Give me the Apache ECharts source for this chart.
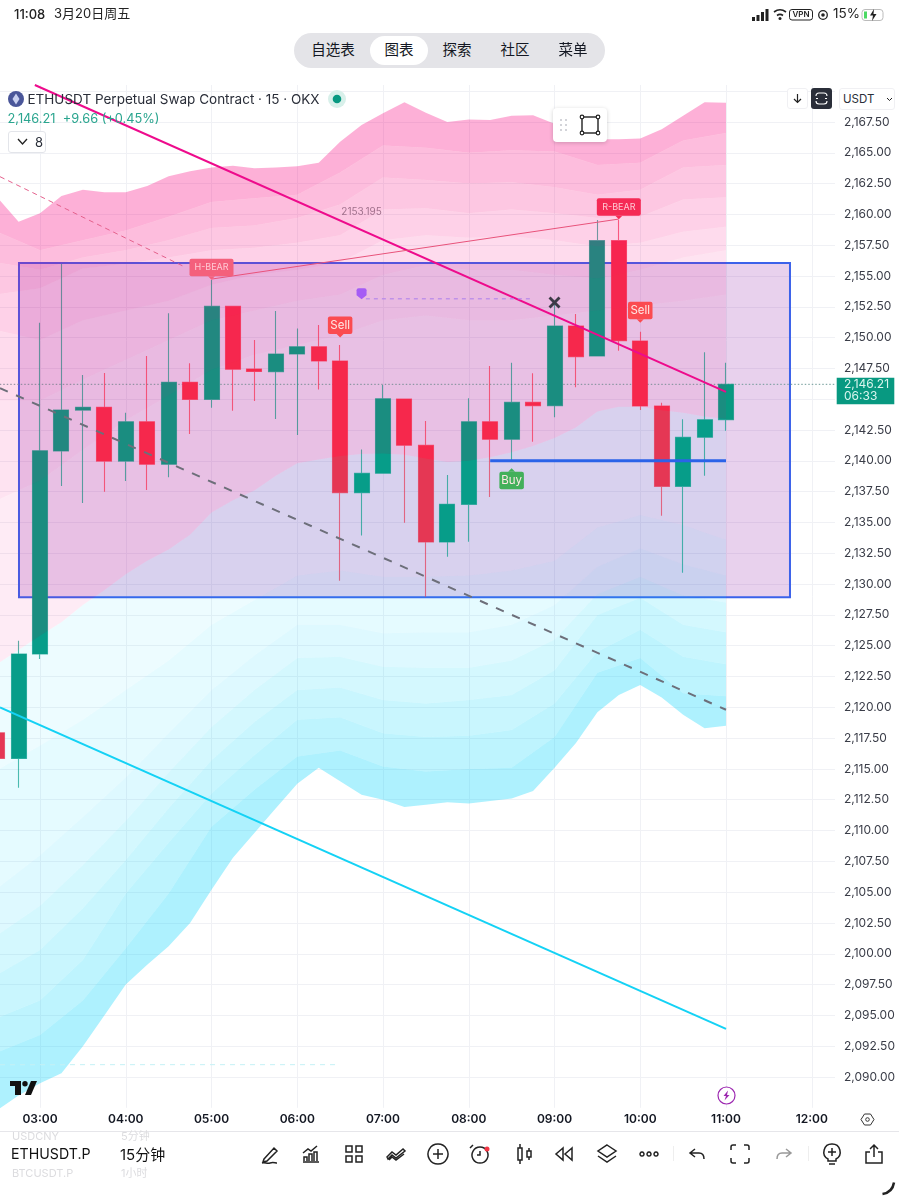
<!DOCTYPE html>
<html>
<head lang="en">
<meta charset="UTF-8">
<title>ETHUSDT.P 15</title>
<script src="https://cdn.jsdelivr.net/npm/echarts@6/dist/echarts.min.js"></script>
<style>
html,body{margin:0;padding:0;background:#fff;overflow:hidden}
body{width:899px;height:1199px;position:relative;font-family:Inter,"Noto Sans CJK SC",sans-serif;color:#131722}
#chart{position:absolute;left:0;top:0;width:899px;height:1199px}
.t{position:absolute;white-space:nowrap;line-height:1;pointer-events:none}
.b{position:absolute;box-sizing:border-box}
svg.i{position:absolute;overflow:visible}
</style>
</head>
<body>
<div id="chart"></div>

<!-- status bar -->
<div class="t" style="left:14px;top:8px;font-size:13px;font-weight:500;color:#222">11:08</div>
<div class="t" style="left:54px;top:7px;font-size:13px;color:#222">3月20日周五</div>
<svg class="i" style="left:752px;top:8px" width="140" height="14" fill="#222">
  <rect x="0" y="9" width="3" height="4"/><rect x="4.500" y="7" width="3" height="6"/><rect x="9" y="4" width="3" height="9"/><rect x="13.500" y="1" width="3" height="12"/>
  <path d="M22 4c4-3 8-3 12 0M25 7.500c2-1.500 4-1.500 6 0" fill="none" stroke="#222" stroke-width="1.600"/><circle cx="28" cy="10.500" r="1.500"/>
  <rect x="37.500" y="1.500" width="23" height="10.500" rx="2.500" fill="none" stroke="#222" stroke-width="1"/>
  <circle cx="71" cy="7" r="4.300" fill="none" stroke="#222" stroke-width="1.300"/><circle cx="71" cy="7" r="1.800"/>
  <rect x="110" y="1.500" width="21" height="11" rx="3" fill="none" stroke="#bbb"/><rect x="112" y="3.500" width="3" height="7" fill="#4cd964"/><path d="M122 1l-4 6.500h3l-1 5.500 4.500-7h-3z"/>
</svg>
<div class="t" style="left:789px;top:10px;width:24px;text-align:center;font-size:8px;font-weight:600;color:#222">VPN</div>
<div class="t" style="left:833px;top:7px;font-size:13.500px;color:#222">15%</div>

<!-- nav pill -->
<div class="b" style="left:294px;top:33px;width:311px;height:35px;border-radius:17.500px;background:#e4e4e8"></div>
<div class="b" style="left:370px;top:36px;width:58px;height:29px;border-radius:14.500px;background:#fff"></div>
<div class="t" style="left:303px;width:60px;top:43px;text-align:center;font-size:14.500px">自选表</div>
<div class="t" style="left:369px;width:60px;top:43px;text-align:center;font-size:14.500px">图表</div>
<div class="t" style="left:427px;width:60px;top:43px;text-align:center;font-size:14.500px">探索</div>
<div class="t" style="left:485px;width:60px;top:43px;text-align:center;font-size:14.500px">社区</div>
<div class="t" style="left:543px;width:60px;top:43px;text-align:center;font-size:14.500px">菜单</div>

<!-- legend -->
<svg class="i" style="left:8px;top:91px" width="16" height="16"><circle cx="8" cy="8" r="8" fill="#4a5699"/><path d="M8 2.500L4.500 8 8 13.500 11.500 8z" fill="#c9d0f0"/></svg>
<div class="t" style="left:27.500px;top:93px;font-size:13.500px;color:#2a2e39">ETHUSDT Perpetual Swap Contract · 15 · OKX</div>
<svg class="i" style="left:328px;top:90px" width="18" height="18"><circle cx="9" cy="9" r="9" fill="#d8f0ea"/><circle cx="9" cy="9" r="4.300" fill="#089981"/></svg>
<div class="t" style="left:7.500px;top:113px;font-size:12.800px;color:#2aa58f">2,146.21&nbsp; +9.66 (+0.45%)</div>
<div class="b" style="left:8px;top:131px;width:38px;height:22px;border:1px solid #e3e5ea;border-radius:3px;background:#fff"></div>
<svg class="i" style="left:17px;top:138px" width="11" height="8"><path d="M1 1l4.500 5L10 1" fill="none" stroke="#222" stroke-width="1.300"/></svg>
<div class="t" style="left:35px;top:135.500px;font-size:13px;color:#2a2e39">8</div>

<!-- top right buttons -->
<div class="b" style="left:787px;top:88px;width:21px;height:21px;border:1px solid #f0f0f3;border-radius:3px;background:#fff"></div>
<svg class="i" style="left:792px;top:93px" width="11" height="11"><path d="M5.500 1v8M2 6l3.500 3.500L9 6" fill="none" stroke="#222" stroke-width="1.200"/></svg>
<div class="b" style="left:811px;top:88px;width:21px;height:21px;border-radius:3px;background:#2a2e39"></div>
<svg class="i" style="left:816px;top:93px" width="11" height="11"><path d="M0 3c0-2 1-3 3-3h5c2 0 3 1 3 3M0 8c0 2 1 3 3 3h5c2 0 3-1 3-3M0 5.500h2M9 5.500h2" fill="none" stroke="#fff" stroke-width="1.100"/></svg>
<div class="b" style="left:839px;top:88px;width:56px;height:22px;border:1px solid #f0f0f3;border-radius:3px;background:#fff"></div>
<div class="t" style="left:843px;top:93.500px;font-size:11.500px;color:#2a2e39">USDT</div>
<svg class="i" style="left:886px;top:97px" width="7" height="5"><path d="M1 1l2.500 2.500L6 1" fill="none" stroke="#222" stroke-width="1"/></svg>

<!-- drawing toolbar -->
<div class="b" style="left:553px;top:108px;width:54px;height:34px;border-radius:4px;background:#fff;box-shadow:0 1px 4px rgba(0,0,0,.18)"></div>
<svg class="i" style="left:559px;top:118px" width="10" height="14" fill="#c4c6cc"><circle cx="2" cy="2" r="1"/><circle cx="7" cy="2" r="1"/><circle cx="2" cy="7" r="1"/><circle cx="7" cy="7" r="1"/><circle cx="2" cy="12" r="1"/><circle cx="7" cy="12" r="1"/></svg>
<svg class="i" style="left:580px;top:115px" width="20" height="20"><rect x="2" y="2" width="16" height="16" fill="none" stroke="#222" stroke-width="1.400"/><g fill="#fff" stroke="#222" stroke-width="1.200"><circle cx="2" cy="2" r="1.800"/><circle cx="18" cy="2" r="1.800"/><circle cx="2" cy="18" r="1.800"/><circle cx="18" cy="18" r="1.800"/></g></svg>

<!-- logo, lightning, settings -->
<svg class="i" style="left:10px;top:1081px" width="27" height="14" fill="#111"><path d="M0 0h11v14H5V5H0z"/><circle cx="15" cy="2.700" r="2.700"/><path d="M21 0h6l-6 14h-6z"/></svg>
<svg class="i" style="left:717px;top:1086px" width="19" height="19"><circle cx="9.500" cy="9.500" r="8.500" fill="#fff" stroke="#9c27b0" stroke-width="1.200"/><path d="M11 4.500L6.500 10h2.500l-1.500 4.500L12.500 9H10z" fill="#9c27b0"/></svg>
<svg class="i" style="left:861px;top:1113px" width="13" height="13"><path d="M3.500 1h6L13 6.500 9.500 12h-6L0 6.500z" fill="none" stroke="#333" stroke-width="1"/><circle cx="6.500" cy="6.500" r="1.800" fill="none" stroke="#333"/></svg>

<!-- bottom toolbar -->
<div class="b" style="left:0;top:1131px;width:899px;height:1px;background:#e6e6ea"></div>
<div class="t" style="left:12px;top:1130.500px;font-size:11px;color:#dcdcdf">USDCNY</div>
<div class="t" style="left:121px;top:1130.500px;font-size:11px;color:#dcdcdf">5分钟</div>
<div class="t" style="left:11px;top:1147px;font-size:14.200px;color:#111">ETHUSDT.P</div>
<div class="t" style="left:120px;top:1147px;font-size:15px;color:#111">15分钟</div>
<div class="t" style="left:12px;top:1168px;font-size:11px;color:#dcdcdf">BTCUSDT.P</div>
<div class="t" style="left:121px;top:1168px;font-size:11px;color:#dcdcdf">1小时</div>
<div id="icons"></div>
<div class="b" style="left:673px;top:1146px;width:1px;height:15px;background:#eee"></div>
<div class="b" style="left:808px;top:1146px;width:1px;height:15px;background:#eee"></div>
<svg class="i" style="left:881px;top:1181px" width="15" height="15"><path d="M13 1.500C12 8 8 12 1.500 13" fill="none" stroke="#222" stroke-width="2.500"/></svg>

<script>
// candles, 15 min bars, hours of the day
var barHours = [2.5,2.75,3,3.25,3.5,3.75,4,4.25,4.5,4.75,5,5.25,5.5,5.75,6,6.25,6.5,6.75,7,7.25,7.5,7.75,8,8.25,8.5,8.75,9,9.25,9.5,9.75,10,10.25,10.5,10.75,11];
var opens  = [2117.93,2115.85,2124.32,2140.80,2144.12,2144.34,2139.98,2143.17,2139.72,2146.37,2144.99,2152.54,2147.45,2147.23,2148.67,2149.26,2148.10,2137.41,2138.99,2145.02,2141.26,2133.41,2136.47,2143.17,2141.75,2144.75,2144.47,2150.94,2148.51,2157.87,2149.72,2144.45,2137.93,2141.91,2143.34];
var closes = [2115.85,2124.32,2140.82,2144.12,2144.34,2139.98,2143.17,2139.72,2146.37,2144.99,2152.54,2147.43,2147.26,2148.67,2149.26,2148.10,2137.41,2138.99,2145.04,2141.26,2133.41,2136.47,2143.17,2141.75,2144.75,2144.47,2150.94,2148.45,2157.87,2149.75,2144.45,2137.93,2141.91,2143.34,2146.21];
var lows   = [2115.85,2113.47,2123.91,2137.95,2136.57,2137.49,2138.36,2137.63,2138.66,2142.18,2144.31,2144.07,2144.85,2143.39,2142.09,2145.80,2130.27,2133.95,2138.99,2134.98,2128.97,2132.22,2133.43,2137.06,2140.06,2141.55,2143.53,2145.97,2148.51,2148.94,2144.12,2135.54,2130.92,2138.79,2142.44];
var highs  = [2117.93,2125.40,2151.21,2155.97,2146.96,2147.13,2143.90,2148.51,2151.97,2147.91,2154.68,2152.54,2149.81,2152.16,2150.75,2151.02,2149.40,2140.93,2146.15,2145.02,2143.23,2138.85,2145.07,2147.69,2147.96,2147.10,2152.81,2151.92,2159.55,2159.55,2150.48,2144.72,2143.37,2148.81,2147.96];
var lastPrice = 2146.21;

// ribbon edges, the outer ones and the middle read every 15 min
var pinkOuter = [2161.4,2159.4,2160.1,2161.5,2162.0,2161.8,2161.8,2162.3,2163.1,2163.5,2163.8,2163.95,2163.75,2163.8,2163.9,2164.2,2165.9,2167.25,2168.2,2169.1,2168.25,2167.5,2167.7,2167.65,2168.0,2168.05,2167.35,2166.2,2166.1,2166.1,2166.15,2166.9,2168.0,2169.1,2169.05];
var ribbonMid = [2123.5,2124.65,2125.8,2126.9,2128.3,2129.5,2130.8,2131.9,2132.8,2134.0,2135.8,2136.8,2137.6,2138.8,2139.8,2140.1,2140.4,2140.55,2140.6,2140.5,2140.2,2139.9,2140.0,2140.3,2140.7,2141.2,2141.85,2142.7,2144.0,2144.4,2144.4,2144.1,2143.9,2143.6,2143.4];
var cyanOuter = [2087.3,2088.5,2089.5,2090.3,2092.5,2095.0,2097.5,2099.1,2100.6,2102.5,2105.2,2107.8,2109.8,2111.8,2113.8,2115.1,2114.0,2112.9,2112.5,2111.9,2112.1,2112.3,2112.2,2112.4,2112.6,2113.2,2115.1,2117.1,2119.6,2121.0,2121.8,2120.8,2119.4,2118.3,2118.5];

// inner edges, read every 30 min
var innerHours = [2.5,3,3.5,4,4.5,5,5.5,6,6.5,7,7.5,8,8.5,9,9.5,10,10.5,11];
var pink1 = [2158.6,2157.1,2157.9,2158.7,2159.8,2161.0,2161.3,2161.6,2163.4,2165.6,2165.4,2165.0,2165.2,2165.1,2164.0,2164.2,2166.0,2166.6];
var pink2 = [2156.1,2155.5,2156.5,2157.1,2157.9,2158.9,2159.1,2159.7,2160.8,2163.0,2162.8,2162.5,2162.6,2162.2,2161.6,2162.0,2163.8,2164.0];
var pink3 = [2153.5,2154.0,2155.6,2156.0,2156.5,2157.1,2157.3,2157.7,2158.3,2160.4,2160.5,2160.1,2160.4,2160.1,2159.7,2159.8,2161.2,2161.4];
var pink4 = [2150.6,2149.8,2151.4,2152.2,2153.0,2154.3,2155.1,2155.5,2156.1,2157.9,2158.3,2158.1,2158.2,2157.9,2157.4,2157.7,2158.6,2159.0];
var pink5 = [2144.9,2144.9,2146.6,2148.2,2149.8,2151.4,2152.2,2153.0,2153.5,2155.1,2155.9,2155.5,2155.5,2155.1,2154.8,2155.5,2156.5,2157.1];
var pink6 = [2136.8,2138.4,2140.9,2143.3,2145.3,2147.4,2148.6,2149.4,2150.2,2151.4,2151.8,2151.4,2151.4,2151.8,2152.2,2152.6,2153.0,2153.5];
var cyan6 = [2114.9,2116.9,2119.0,2121.4,2123.8,2126.7,2128.7,2130.7,2131.1,2130.6,2130.6,2130.7,2131.1,2131.9,2134.6,2135.6,2134.8,2133.6];
var cyan5 = [2105.3,2108.0,2111.1,2114.3,2117.9,2121.4,2124.2,2126.7,2126.7,2126.0,2126.1,2126.1,2126.7,2128.3,2131.4,2132.9,2131.6,2130.7];
var cyan4 = [2101.5,2103.9,2107.2,2110.8,2114.7,2118.4,2121.4,2124.0,2124.1,2123.3,2123.2,2123.2,2123.8,2125.5,2129.2,2130.6,2129.1,2128.5];
var cyan3 = [2098.3,2100.3,2103.7,2107.6,2111.8,2115.7,2118.8,2121.4,2121.6,2120.6,2120.3,2120.6,2121.0,2123.0,2127.5,2128.9,2126.7,2126.1];
var cyan2 = [2094.8,2096.2,2099.5,2104.9,2109.0,2113.0,2116.1,2119.0,2119.2,2117.9,2117.6,2117.7,2118.15,2120.3,2124.5,2126.3,2124.1,2123.5];
var cyan1 = [2092.0,2093.4,2096.2,2100.45,2104.9,2110.3,2113.3,2116.0,2116.5,2115.2,2114.8,2115.0,2115.1,2117.6,2122.8,2124.0,2121.15,2120.9];

// drawings
var boxHours = [2.755,11.746];
var boxPrices = [2156.05,2128.94];
var pinkLine = [[2.94,2170.5],[11,2145.6]];
var cyanLine = [[2.5335,2120.0],[11,2093.9]];
var greyDash = [[2.5335,2145.9],[11,2119.8]];
var pinkDash = [[2.5335,2163.06],[4.69,2155.73]];
var bearLine = [[5,2154.75],[9.75,2159.62]];
var buyLine = [[8.25,2140.0],[11,2140.0]];
var alertDash = [[6.8,2153.15],[8.714,2153.15]];
var lowDash = [[2.5335,2091.0],[6.46,2091.0]];
var tagNames = ['H-BEAR','R-BEAR','Sell','Sell','Buy'];
var tagHours = [5,9.75,6.5,10,8.5];
var tagPrices = [2154.7,2159.6,2150.0,2151.2,2139.4];

var yMin = 2087.5, yMax = 2170.5, xMin = 2, xMax = 12.271;

function pad(h){ return (h < 10 ? '0' : '') + h + ':00'; }
function priceText(v){ return v.toFixed(2).replace(/^(\d)(\d{3})/, '$1,$2'); }

// one filled band between two edges of the ribbon
function band(topH, top, botH, bot, fill){
    return {
        type: 'custom', z: 3, silent: true, data: [0],
        renderItem: function(params, api){
            var pts = [];
            for (var i = 0; i < top.length; i++) pts.push(api.coord([topH[i], top[i]]));
            for (var j = bot.length - 1; j >= 0; j--) pts.push(api.coord([botH[j], bot[j]]));
            return {type: 'polygon', shape: {points: pts}, style: {fill: fill}};
        }
    };
}
function line(data, color, width, dash, z){
    return {
        type: 'line', data: data, z: z || 4, silent: true, showSymbol: false, symbol: 'none',
        lineStyle: {color: color, width: width, type: dash || 'solid'}
    };
}

var pinkC = '248,0,125', cyanC = '2,211,252';
var series = [];

// box, below the candles
series.push({
    type: 'custom', z: 1, silent: true, data: [0],
    renderItem: function(params, api){
        var a = api.coord([boxHours[0], boxPrices[0]]), b = api.coord([boxHours[1], boxPrices[1]]);
        return {type: 'rect', shape: {x: a[0], y: a[1], width: b[0]-a[0], height: b[1]-a[1]},
            style: {fill: 'rgba(140,25,165,0.2)', stroke: '#3b62ea', lineWidth: 2}};
    }
});
series.push(line([[xMin,lastPrice],[xMax,lastPrice]], '#6f9a97', 1, [1.5,2], 2));
series.push({
    type: 'candlestick', z: 2, silent: true, barWidth: 15.5,
    encode: {x: 0, y: [1,2,3,4]},
    data: barHours.map(function(h,i){ return [h, opens[i], closes[i], lows[i], highs[i]]; }),
    // see-through border keeps the wicks lighter than the bodies
    itemStyle: {color: '#089981', color0: '#f72c48', borderColor: 'rgba(8,153,129,0.7)', borderColor0: 'rgba(247,44,72,0.7)', borderWidth: 1.1}
});

// ribbon over the candles, see-through
series.push(band(barHours, pinkOuter, innerHours, pink1, 'rgba('+pinkC+',0.31)'));
series.push(band(innerHours, pink1, innerHours, pink2, 'rgba('+pinkC+',0.26)'));
series.push(band(innerHours, pink2, innerHours, pink3, 'rgba('+pinkC+',0.22)'));
series.push(band(innerHours, pink3, innerHours, pink4, 'rgba('+pinkC+',0.18)'));
series.push(band(innerHours, pink4, innerHours, pink5, 'rgba('+pinkC+',0.14)'));
series.push(band(innerHours, pink5, innerHours, pink6, 'rgba('+pinkC+',0.11)'));
series.push(band(innerHours, pink6, barHours, ribbonMid, 'rgba('+pinkC+',0.08)'));
series.push(band(barHours, ribbonMid, innerHours, cyan6, 'rgba('+cyanC+',0.07)'));
series.push(band(innerHours, cyan6, innerHours, cyan5, 'rgba('+cyanC+',0.10)'));
series.push(band(innerHours, cyan5, innerHours, cyan4, 'rgba('+cyanC+',0.13)'));
series.push(band(innerHours, cyan4, innerHours, cyan3, 'rgba('+cyanC+',0.17)'));
series.push(band(innerHours, cyan3, innerHours, cyan2, 'rgba('+cyanC+',0.21)'));
series.push(band(innerHours, cyan2, innerHours, cyan1, 'rgba('+cyanC+',0.26)'));
series.push(band(innerHours, cyan1, barHours, cyanOuter, 'rgba('+cyanC+',0.32)'));

// trend lines
series.push(line(pinkLine, '#ee0b8c', 2));
series.push(line(cyanLine, '#14d2f5', 2));
series.push(line(greyDash, '#6d6f7a', 2, [8.5,9]));
series.push(line(pinkDash, '#e4608c', 1, [5,4]));
series.push(line(bearLine, '#e8527a', 1));
series.push(line(buyLine, '#2b63e8', 3));
series.push(line(alertDash, '#b488ea', 1.2, [4,4]));
series.push(line(lowDash, '#c4f1f6', 1, [5,5]));

// signal tags
series.push({
    type: 'custom', z: 5, silent: true,
    data: tagNames.map(function(n,i){ return [tagHours[i], tagPrices[i], i]; }),
    encode: {x: 0, y: 1},
    renderItem: function(params, api){
        var name = tagNames[api.value(2)], p = api.coord([api.value(0), api.value(1)]);
        var bear = name.indexOf('BEAR') > 0, up = name === 'Buy';
        var w = bear ? 44 : 24.5, h = 17.5, gap = 3.5;
        var fill = name === 'H-BEAR' ? '#f4607c' : name === 'R-BEAR' ? '#f52a55' : up ? '#43b05a' : '#fb4b50';
        var top = up ? p[1] + gap : p[1] - gap - h;
        var edge = up ? p[1] + gap : p[1] - gap;
        return {type: 'group', children: [
            {type: 'rect', shape: {x: p[0]-w/2, y: top, width: w, height: h, r: 2}, style: {fill: fill}},
            {type: 'polygon', shape: {points: [[p[0]-3.5,edge],[p[0]+3.5,edge],[p[0],p[1]]]}, style: {fill: fill}},
            {type: 'text', style: {text: name, x: p[0], y: top+h/2, align: 'center', verticalAlign: 'middle',
                fill: bear ? '#ffc9d4' : '#ffe9e6', font: (bear ? '9px' : '11.5px') + ' Inter'}}
        ]};
    }
});
// level text, flag and the cross
series.push({
    type: 'custom', z: 5, silent: true, data: [[6.75,2160.2]], encode: {x: 0, y: 1},
    renderItem: function(params, api){
        var p = api.coord([api.value(0), api.value(1)]);
        return {type: 'text', style: {text: '2153.195', x: p[0], y: p[1], align: 'center', verticalAlign: 'middle', fill: '#a0708c', font: '10px Inter'}};
    }
});
series.push({
    type: 'scatter', z: 5, silent: true, data: [[6.75,2153.15]], symbolSize: [10,11], symbolOffset: [0,-5],
    symbol: 'path://M2 0h6a2 2 0 0 1 2 2v5l-5 4-5-4V2a2 2 0 0 1 2-2z', itemStyle: {color: '#a55cf5', opacity: 1}
});
series.push({
    type: 'scatter', z: 5, silent: true, data: [[9,2152.85]], symbolSize: 12,
    symbol: 'path://M2 0L6 4 10 0 12 2 8 6 12 10 10 12 6 8 2 12 0 10 4 6 0 2z', itemStyle: {color: '#3d3a46', opacity: 1}
});
// last price tag on the scale
series.push({
    type: 'custom', z: 6, silent: true, data: [[xMax,lastPrice]], encode: {x: 0, y: 1},
    renderItem: function(params, api){
        var p = api.coord([api.value(0), api.value(1)]);
        return {type: 'group', children: [
            {type: 'rect', shape: {x: p[0]+1.7, y: p[1]-6.6, width: 57.6, height: 26.6}, style: {fill: '#089981'}},
            {type: 'text', style: {text: priceText(lastPrice), x: p[0]+9, y: p[1], verticalAlign: 'middle', fill: '#d9f5ee', font: '12px Inter'}},
            {type: 'text', style: {text: '06:33', x: p[0]+9, y: p[1]+12, verticalAlign: 'middle', fill: '#d9f5ee', font: '12px Inter'}}
        ]};
    }
});

var chart = echarts.init(document.getElementById('chart'), null, {renderer: 'canvas'});
chart.setOption({
    animation: false,
    backgroundColor: 'transparent',
    grid: {left: -45.75, top: 85, width: 880.75, height: 1022.8, outerBoundsMode: 'none'},
    xAxis: {
        type: 'value', min: xMin, max: xMax, interval: 1,
        axisLine: {show: false}, axisTick: {show: false},
        splitLine: {show: true, showMinLine: false, showMaxLine: false, lineStyle: {color: '#f0f1f5', width: 1}},
        axisLabel: {
            margin: 6, fontFamily: 'Inter', fontSize: 12, fontWeight: 600, color: '#131722',
            showMinLabel: false, showMaxLabel: false,
            formatter: function(v){ return (v % 1 === 0 && v > 2) ? pad(v) : ''; }
        }
    },
    yAxis: {
        type: 'value', position: 'right', min: yMin, max: yMax, interval: 2.5,
        axisLine: {show: false}, axisTick: {show: false},
        splitLine: {show: true, showMinLine: false, showMaxLine: false, lineStyle: {color: '#f0f1f5', width: 1}},
        axisLabel: {
            margin: 9, fontFamily: 'Inter', fontSize: 12, color: '#3a3d48',
            formatter: function(v){ return (v === 2087.5 || v >= 2170 || v === 2145) ? '' : priceText(v); }
        }
    },
    series: series
});

// bottom toolbar icons
var icons = [
    [270,'M6 17L16 6l3 3-10 10-4 1zM4 21c3-1 5 1 8 0s5 0 7 0'],
    [311,'M4 20h16M5 19v-4h3v4M10 19v-7h3v7M15 19v-9h3v9M4 11l5-4 3 2 6-5'],
    [354,'M4 4h6v6H4zM14 4h6v6h-6zM4 14h6v6H4zM14 14h6v6h-6z'],
    [396,'M3 15l5-5 4 3 7-6 2 2-9 7-4-3-4 4zM5 18l3-3 4 3 8-6'],
    [438,'M12 2a10 10 0 1 0 .01 0zM12 7v10M7 12h10'],
    [480,'M12 5a8 8 0 1 0 .01 0zM12 9v4H9M5 3L2 6'],
    [522.7,'M7 6h4v12H7zM9 2v4M9 18v4M16 9h4v6h-4zM18 6v3M18 15v3'],
    [564,'M11 6L4 12l7 6zM20 6l-7 6 7 6z'],
    [607,'M12 3l9 6-9 6-9-6zM3 14l9 6 9-6'],
    [649,'M5 10a2 2 0 1 0 .01 0zM12 10a2 2 0 1 0 .01 0zM19 10a2 2 0 1 0 .01 0z'],
    [698,'M9 7l-5 4 5 4M4 11h9c3 0 5 2 5 6'],
    [740,'M8 3H5a2 2 0 0 0-2 2v3M16 3h3a2 2 0 0 1 2 2v3M8 21H5a2 2 0 0 1-2-2v-3M16 21h3a2 2 0 0 0 2-2v-3'],
    [783,'M15 7l5 4-5 4M20 11h-9c-3 0-5 2-5 6', '#999'],
    [832,'M12 2a8 8 0 0 0-4 15v2h8v-2a8 8 0 0 0-4-15zM12 6v8M8 10h8M9 22h6'],
    [874,'M12 15V3M8 7l4-4 4 4M8 10H4v11h16V10h-4']
];
var html = '';
for (var k = 0; k < icons.length; k++) {
    html += '<svg class="i" style="left:' + (icons[k][0]-12) + 'px;top:1142px" width="24" height="24" viewBox="0 0 24 24"><path d="' + icons[k][1] +
        '" fill="none" stroke="' + (icons[k][2] || '#222') + '" stroke-width="1.500"/></svg>';
}
html += '<svg class="i" style="left:484px;top:1146px" width="6" height="6"><circle cx="3" cy="3" r="2.500" fill="#f23645"/></svg>';
document.getElementById('icons').innerHTML = html;
</script>
</body>
</html>
